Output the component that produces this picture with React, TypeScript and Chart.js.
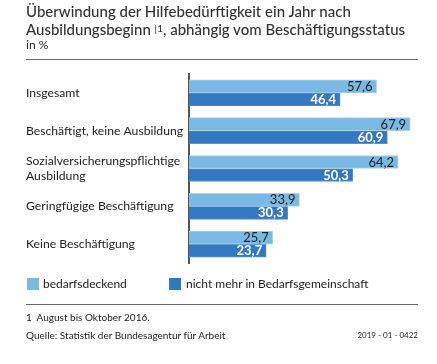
import React, { useEffect, useRef } from "react";
import { Chart, registerables } from "chart.js";

Chart.register(...registerables);

const categories: (string | string[])[] = [
  "Insgesamt",
  "Beschäftigt, keine Ausbildung",
  ["Sozialversicherungspflichtige", "Ausbildung"],
  "Geringfügige Beschäftigung",
  "Keine Beschäftigung",
];
const seriesNames = ["bedarfsdeckend", "nicht mehr in Bedarfsgemeinschaft"];
const bedarfsdeckend = [57.6, 67.9, 64.2, 33.9, 25.7];
const nichtMehrInBG = [46.4, 60.9, 50.3, 30.3, 23.7];

const LIGHT = "#79b9e4";
const DARK = "#3478c1";
const FONT = "Lato, 'Noto Sans', sans-serif";

const valueLabels = {
  id: "valueLabels",
  afterDatasetsDraw(chart: any) {
    const ctx = chart.ctx;
    chart.data.datasets.forEach((ds: any, di: number) => {
      const meta = chart.getDatasetMeta(di);
      meta.data.forEach((bar: any, i: number) => {
        const v = ds.data[i] as number;
        const txt = v.toFixed(1).replace(".", ",");
        ctx.save();
        ctx.font = (di === 1 ? "bold " : "") + "13px " + FONT;
        ctx.fillStyle = di === 1 ? "#ffffff" : "#222222";
        ctx.textAlign = "right";
        ctx.textBaseline = "middle";
        ctx.fillText(txt, bar.x - 4, bar.y + 0.5);
        ctx.restore();
      });
    });
  },
};

export default function App() {
  const ref = useRef<HTMLCanvasElement | null>(null);
  useEffect(() => {
    if (!ref.current) return;
    const chart = new Chart(ref.current, {
      type: "bar",
      data: {
        labels: categories,
        datasets: [
          {
            label: seriesNames[0],
            data: bedarfsdeckend,
            backgroundColor: LIGHT,
            borderColor: "#a9d3ef",
            borderWidth: 1,
            barThickness: 13,
            categoryPercentage: 0.74,
          },
          {
            label: seriesNames[1],
            data: nichtMehrInBG,
            backgroundColor: DARK,
            borderColor: "#5a92cf",
            borderWidth: 1,
            barThickness: 13,
            categoryPercentage: 0.74,
          },
        ],
      },
      options: {
        indexAxis: "y",
        animation: false,
        responsive: false,
        devicePixelRatio: 1,
        layout: { padding: { left: 26, top: 74, right: 20, bottom: 101 } },
        plugins: {
          legend: { display: false },
          tooltip: { enabled: false },
        },
        scales: {
          x: {
            min: 0,
            max: 70,
            display: false,
          },
          y: {
            afterFit(scale: any) {
              scale.width = 163;
            },
            grid: { display: false, drawTicks: false },
            border: { display: true, color: "#555555", width: 2 },
            ticks: {
              crossAlign: "far",
              padding: 6,
              color: "#222222",
              font: { family: FONT, size: 12.2 },
            },
          },
        },
      },
      plugins: [valueLabels],
    });
    return () => chart.destroy();
  }, []);

  const text: React.CSSProperties = {
    position: "absolute",
    fontFamily: FONT,
    color: "#222",
    whiteSpace: "nowrap",
    margin: 0,
  };

  return (
    <div style={{ position: "absolute", left: 0, top: 0, width: 437, height: 364, background: "#fff", overflow: "hidden" }}>
      <canvas ref={ref} width={437} height={364} style={{ position: "absolute", left: 0, top: 0 }} />
      <div style={{ ...text, left: 26, top: 2, fontSize: 15, lineHeight: "18px", fontWeight: 500, color: "#333" }}>
        Überwindung der Hilfebedürftigkeit ein Jahr nach
        <br />
        Ausbildungsbeginn <span style={{ fontSize: 10, verticalAlign: "top", position: "relative", top: -1 }}>|1</span>, abhängig vom Beschäftigungsstatus
      </div>
      <div style={{ ...text, left: 26, top: 38, fontSize: 12, lineHeight: "14px" }}>in %</div>
      <div style={{ position: "absolute", left: 26, top: 59, width: 392, height: 1, background: "#666" }} />
      <div style={{ position: "absolute", left: 27, top: 278, width: 12, height: 12, background: LIGHT }} />
      <div style={{ ...text, left: 43, top: 276, fontSize: 12, lineHeight: "16px" }}>{seriesNames[0]}</div>
      <div style={{ position: "absolute", left: 169, top: 278, width: 12, height: 12, background: DARK }} />
      <div style={{ ...text, left: 186, top: 276, fontSize: 12, lineHeight: "16px" }}>{seriesNames[1]}</div>
      <div style={{ position: "absolute", left: 26, top: 304, width: 392, height: 1, background: "#666" }} />
      <div style={{ ...text, left: 26, top: 311, fontSize: 10, lineHeight: "12px" }}>1&nbsp;&nbsp;August bis Oktober 2016.</div>
      <div style={{ ...text, left: 26, top: 329, fontSize: 10, lineHeight: "12px" }}>Quelle: Statistik der Bundesagentur für Arbeit</div>
      <div style={{ ...text, right: 19, top: 330, fontSize: 8, lineHeight: "11px" }}>2019 - 01 - 0422</div>
    </div>
  );
}
